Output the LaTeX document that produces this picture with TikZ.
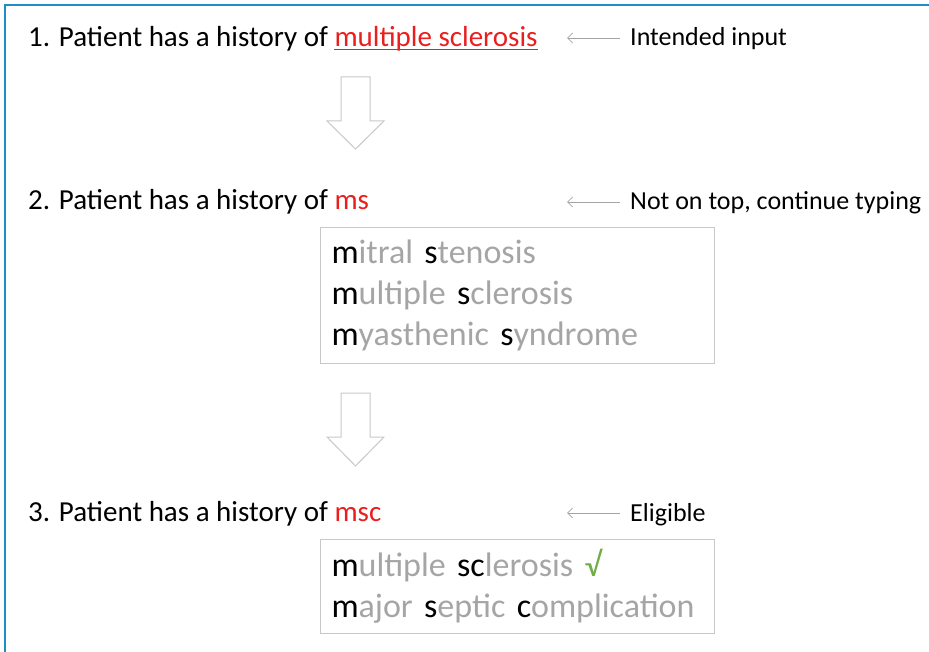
\documentclass[tikz,border=0pt]{standalone}
\usepackage{fontspec}
\setmainfont{Carlito}
\usepackage{xcolor}
\usetikzlibrary{positioning,arrows.meta}
\definecolor{frameblue}{RGB}{30,140,200}
\definecolor{typedred}{RGB}{235,30,30}
\definecolor{hintgray}{RGB}{165,165,165}
\definecolor{boxgray}{RGB}{200,200,200}
\definecolor{okgreen}{RGB}{112,173,71}
\newcommand{\typed}[1]{\textcolor{black}{#1}}
\newcommand{\rest}[1]{\textcolor{hintgray}{#1}}

\begin{document}
\begin{tikzpicture}[
    x=1pt, y=-1pt,
    stepline/.style={anchor=base west, inner sep=0pt, font=\fontsize{29}{34}\selectfont},
    note/.style={anchor=base west, inner sep=0pt, font=\fontsize{26}{30}\selectfont},
    pointer/.style={draw=hintgray, {Straight Barb[length=5pt,width=10pt]}-, line width=0.8pt},
    suggest/.style={draw=boxgray, line width=1pt, anchor=north west, text width=372pt, align=left,
      inner xsep=11pt, inner ysep=6pt, font=\fontsize{34}{41}\selectfont},
    blockarrow/.style={draw=boxgray, line width=1pt, fill=white}
  ]
\useasboundingbox (0,0) rectangle (929,652);
% frame
\draw[frameblue, line width=2pt] (5,652) -- (5,5) -- (929,5);

% step 1
\node[stepline] (step1) at (28,47) {1. Patient has a history of \textcolor{typedred}{multiple sclerosis}};
\draw[typedred, line width=1pt] (334,50) -- (step1.east |- 0,50);
\node[note] (note1) at (630,46) {Intended input};
\draw[pointer] (567,38) -- ([xshift=-10pt]note1.west |- 0,38);

% arrow down 1
\draw[blockarrow] (341,77) -- (370,77) -- (370,121) -- (384,121) -- (355.5,149) -- (327,121) -- (341,121) -- cycle;

% step 2
\node[stepline] (step2) at (28,210) {2. Patient has a history of \textcolor{typedred}{ms}};
\node[note] (note2) at (630,210) {Not on top, continue typing};
\draw[pointer] (567,202) -- ([xshift=-10pt]note2.west |- 0,202);
\node[suggest, minimum height=136pt] (list2) at (320,227) {%
  \mbox{\typed{m}\rest{itral }\typed{s}\rest{tenosis}}\\
  \mbox{\typed{m}\rest{ultiple }\typed{s}\rest{clerosis}}\\
  \mbox{\typed{m}\rest{yasthenic }\typed{s}\rest{yndrome}}};

% arrow down 2
\draw[blockarrow] (341,393) -- (370,393) -- (370,437) -- (384,437) -- (355.5,466) -- (327,437) -- (341,437) -- cycle;

% step 3
\node[stepline] (step3) at (28,521) {3. Patient has a history of \textcolor{typedred}{msc}};
\node[note] (note3) at (630,521) {Eligible};
\draw[pointer] (567,513) -- ([xshift=-10pt]note3.west |- 0,513);
\node[suggest, minimum height=94pt] (list3) at (320,539) {%
  \mbox{\typed{m}\rest{ultiple }\typed{sc}\rest{lerosis} \textcolor{okgreen}{√}}\\
  \mbox{\typed{m}\rest{ajor }\typed{s}\rest{eptic }\typed{c}\rest{omplication}}};
\end{tikzpicture}
\end{document}
